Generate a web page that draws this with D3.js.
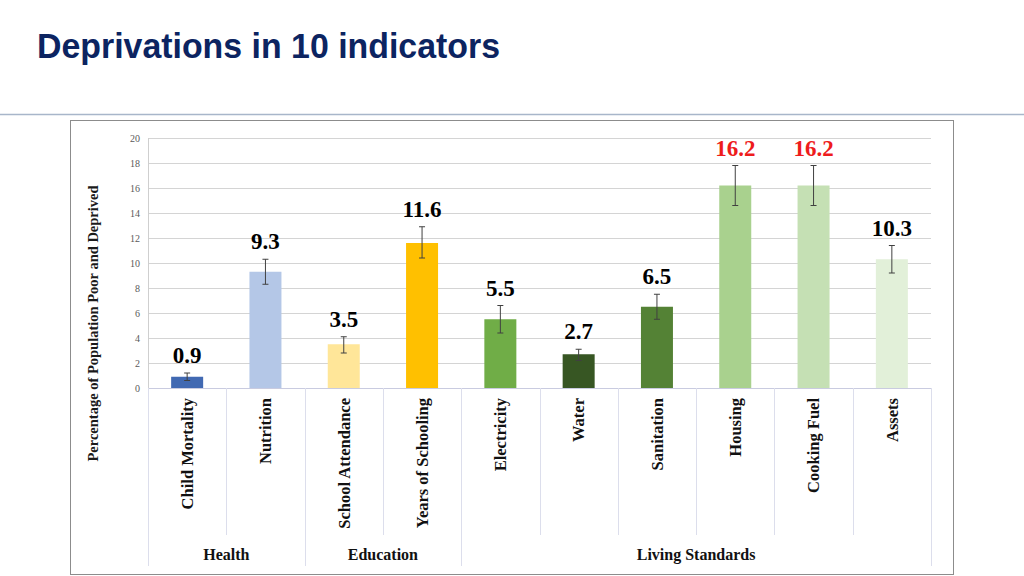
<!DOCTYPE html>
<html>
<head>
<meta charset="utf-8">
<script src="https://cdn.jsdelivr.net/npm/d3@7"></script>
<style>
  body { margin: 0; background: #fff; }
  svg { display: block; }
</style>
</head>
<body>
<svg width="1024" height="576"></svg>
<script>
// values
const indicators = ['Child Mortality', 'Nutrition', 'School Attendance', 'Years of Schooling',
  'Electricity', 'Water', 'Sanitation', 'Housing', 'Cooking Fuel', 'Assets']
const deprived = [0.9, 9.3, 3.5, 11.6, 5.5, 2.7, 6.5, 16.2, 16.2, 10.3]
const errLow = [0.6, 8.3, 2.8, 10.4, 4.4, 2.2, 5.5, 14.6, 14.6, 9.2]
const errHigh = [1.2, 10.3, 4.1, 12.9, 6.6, 3.1, 7.5, 17.8, 17.8, 11.4]
const barColors = ['#4169b2', '#b4c7e7', '#ffe699', '#ffc000', '#70ad47',
  '#375623', '#548235', '#a9d18e', '#c5e0b4', '#e2f0d9']
const highlight = [false, false, false, false, false, false, false, true, true, false]
const groups = ['Health', 'Education', 'Living Standards']
const groupSize = [2, 2, 6]
const yTicks = [0, 2, 4, 6, 8, 10, 12, 14, 16, 18, 20]

const svg = d3.select('svg')
const margin = {top: 138, left: 148, right: 93, bottom: 188}
const width = +svg.attr('width')
const height = +svg.attr('height')

// slide title + rule
svg.append('text')
  .attr('x', 37).attr('y', 58)
  .attr('font-family', 'Liberation Sans, Arial, sans-serif')
  .attr('font-weight', 'bold')
  .attr('font-size', 35)
  .attr('fill', '#0c2461')
  .attr('textLength', 463)
  .attr('lengthAdjust', 'spacingAndGlyphs')
  .text('Deprivations in 10 indicators')

svg.append('line')
  .attr('x1', 0).attr('x2', width).attr('y1', 114.5).attr('y2', 114.5)
  .attr('stroke', '#a8b6ca').attr('stroke-width', 1.5)

svg.append('rect')
  .attr('x', 70.5).attr('y', 120.5).attr('width', 883).attr('height', 454)
  .attr('fill', 'none').attr('stroke', '#8c8c8c')

const x = d3.scaleBand()
  .domain(indicators)
  .range([margin.left, width - margin.right])
  .paddingInner(0).paddingOuter(0)

const y = d3.scaleLinear()
  .domain([0, 20])
  .range([height - margin.bottom, margin.top])

const g = svg.append('g')

// grid
g.selectAll('.grid').data(yTicks).enter().append('line')
  .attr('x1', margin.left).attr('x2', width - margin.right)
  .attr('y1', d => Math.round(y(d)) + 0.5).attr('y2', d => Math.round(y(d)) + 0.5)
  .attr('stroke', d => d === 0 ? '#c9cbe0' : '#d4d4d4')

// y axis line
g.append('line')
  .attr('x1', margin.left + 0.5).attr('x2', margin.left + 0.5)
  .attr('y1', y(20)).attr('y2', y(0))
  .attr('stroke', '#cfcfcf')

const yAxis = g.append('g')
  .attr('transform', `translate(${margin.left},0)`)
  .call(d3.axisLeft(y).tickValues(yTicks).tickSize(0).tickPadding(8))
yAxis.select('.domain').remove()
yAxis.selectAll('text')
  .attr('font-family', 'Liberation Serif, Times New Roman, serif')
  .attr('font-size', 10)
  .attr('fill', '#595959')

svg.append('text')
  .attr('transform', `translate(93,${(182 + 465) / 2}) rotate(-90)`)
  .attr('dy', '0.35em')
  .attr('text-anchor', 'middle')
  .attr('font-family', 'Liberation Serif, Times New Roman, serif')
  .attr('font-weight', 'bold')
  .attr('font-size', 14.5)
  .attr('fill', '#1a1a1a')
  .text('Percentage of Population Poor and Deprived')

const bw = 32
const cx = d => x(d) + x.bandwidth() / 2

// bars
g.selectAll('.bar').data(indicators).enter().append('rect')
  .attr('x', d => cx(d) - bw / 2)
  .attr('width', bw)
  .attr('y', (d, i) => y(deprived[i]))
  .attr('height', (d, i) => y(0) - y(deprived[i]))
  .attr('fill', (d, i) => barColors[i])

// error bars
const eb = g.selectAll('.err').data(indicators).enter().append('g')
eb.append('line')
  .attr('x1', d => cx(d)).attr('x2', d => cx(d))
  .attr('y1', (d, i) => y(errHigh[i])).attr('y2', (d, i) => y(errLow[i]))
  .attr('stroke', '#404040')
;[errHigh, errLow].forEach(arr => {
  eb.append('line')
    .attr('x1', d => cx(d) - 3).attr('x2', d => cx(d) + 3)
    .attr('y1', (d, i) => y(arr[i])).attr('y2', (d, i) => y(arr[i]))
    .attr('stroke', '#404040')
})

// value labels
g.selectAll('.val').data(indicators).enter().append('text')
  .attr('x', d => cx(d))
  .attr('y', (d, i) => y(errHigh[i]) - 18)
  .attr('dy', '0.35em')
  .attr('text-anchor', 'middle')
  .attr('font-family', 'Liberation Serif, Times New Roman, serif')
  .attr('font-weight', 'bold')
  .attr('font-size', 23)
  .attr('fill', (d, i) => highlight[i] ? '#ee1c1c' : '#000')
  .text((d, i) => deprived[i].toFixed(1))

// category dividers
const catBottom = 535
const grpBottom = 566
const bounds = indicators.map(d => x(d)).concat([width - margin.right])
let idx = 0
const groupEdges = [0]
groupSize.forEach(s => { idx += s; groupEdges.push(idx) })

g.selectAll('.div').data(bounds).enter().append('line')
  .attr('x1', d => Math.round(d) + 0.5).attr('x2', d => Math.round(d) + 0.5)
  .attr('y1', y(0))
  .attr('y2', (d, i) => groupEdges.includes(i) ? grpBottom : catBottom)
  .attr('stroke', '#dcdeec')

// category labels
g.selectAll('.cat').data(indicators).enter().append('text')
  .attr('transform', d => `translate(${cx(d)},${y(0) + 10}) rotate(-90)`)
  .attr('text-anchor', 'end')
  .attr('dy', '0.35em')
  .attr('font-family', 'Liberation Serif, Times New Roman, serif')
  .attr('font-weight', 'bold')
  .attr('font-size', 16.5)
  .attr('fill', '#111')
  .text(d => d)

// group labels
g.selectAll('.grp').data(groups).enter().append('text')
  .attr('x', (d, i) => (bounds[groupEdges[i]] + bounds[groupEdges[i + 1]]) / 2)
  .attr('y', 554)
  .attr('dy', '0.35em')
  .attr('text-anchor', 'middle')
  .attr('font-family', 'Liberation Serif, Times New Roman, serif')
  .attr('font-weight', 'bold')
  .attr('font-size', 16)
  .attr('fill', '#111')
  .text(d => d)
</script>
</body>
</html>
